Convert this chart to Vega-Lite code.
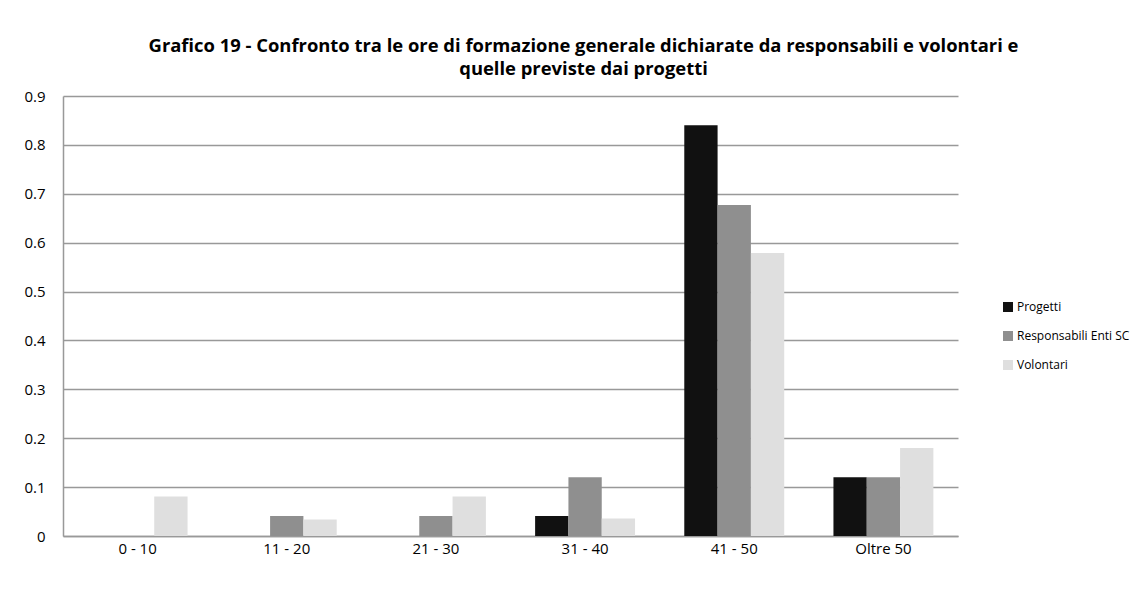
{
  "$schema": "https://vega.github.io/schema/vega-lite/v6.json",
  "width": 895,
  "height": 440,
  "autosize": {"type": "none"},
  "padding": {"left": 63, "top": 96, "right": 180, "bottom": 64},
  "background": "white",
  "title": {
    "text": ["Grafico 19 - Confronto tra le ore di formazione generale dichiarate da responsabili e volontari e", "quelle previste dai progetti"],
    "anchor": "middle",
    "frame": "group",
    "dx": 73,
    "offset": 11,
    "font": "Open Sans",
    "fontSize": 18.4,
    "fontWeight": "bold",
    "color": "#000000",
    "lineHeight": 23
  },
  "data": {
    "values": [
      {"fascia": "0 - 10", "serie": "Progetti", "valore": 0},
      {"fascia": "0 - 10", "serie": "Responsabili Enti SC", "valore": 0},
      {"fascia": "0 - 10", "serie": "Volontari", "valore": 0.081},
      {"fascia": "11 - 20", "serie": "Progetti", "valore": 0},
      {"fascia": "11 - 20", "serie": "Responsabili Enti SC", "valore": 0.041},
      {"fascia": "11 - 20", "serie": "Volontari", "valore": 0.034},
      {"fascia": "21 - 30", "serie": "Progetti", "valore": 0},
      {"fascia": "21 - 30", "serie": "Responsabili Enti SC", "valore": 0.041},
      {"fascia": "21 - 30", "serie": "Volontari", "valore": 0.081},
      {"fascia": "31 - 40", "serie": "Progetti", "valore": 0.041},
      {"fascia": "31 - 40", "serie": "Responsabili Enti SC", "valore": 0.12},
      {"fascia": "31 - 40", "serie": "Volontari", "valore": 0.036},
      {"fascia": "41 - 50", "serie": "Progetti", "valore": 0.84},
      {"fascia": "41 - 50", "serie": "Responsabili Enti SC", "valore": 0.677},
      {"fascia": "41 - 50", "serie": "Volontari", "valore": 0.579},
      {"fascia": "Oltre 50", "serie": "Progetti", "valore": 0.12},
      {"fascia": "Oltre 50", "serie": "Responsabili Enti SC", "valore": 0.12},
      {"fascia": "Oltre 50", "serie": "Volontari", "valore": 0.18}
    ]
  },
  "mark": {"type": "bar"},
  "encoding": {
    "x": {
      "field": "fascia",
      "type": "nominal",
      "sort": ["0 - 10", "11 - 20", "21 - 30", "31 - 40", "41 - 50", "Oltre 50"],
      "scale": {"paddingInner": 0.33, "paddingOuter": 0.165},
      "axis": {
        "title": null,
        "labelAngle": 0,
        "labelFont": "Open Sans",
        "labelFontSize": 15,
        "labelColor": "#000000",
        "labelPadding": 5,
        "ticks": false,
        "domainColor": "#999999",
        "domainWidth": 1.5
      }
    },
    "xOffset": {
      "field": "serie",
      "type": "nominal",
      "sort": ["Progetti", "Responsabili Enti SC", "Volontari"],
      "scale": {"paddingInner": 0, "paddingOuter": 0}
    },
    "y": {
      "field": "valore",
      "type": "quantitative",
      "scale": {"domain": [0, 0.9], "nice": false},
      "axis": {
        "title": null,
        "values": [0, 0.1, 0.2, 0.3, 0.4, 0.5, 0.6, 0.7, 0.8, 0.9],
        "format": ".1~f",
        "labelFont": "Open Sans",
        "labelFontSize": 15,
        "labelColor": "#000000",
        "labelPadding": 18,
        "ticks": false,
        "grid": true,
        "gridColor": "#999999",
        "gridWidth": 1.5,
        "domain": true,
        "domainColor": "#999999",
        "domainWidth": 1.5
      }
    },
    "color": {
      "field": "serie",
      "type": "nominal",
      "sort": ["Progetti", "Responsabili Enti SC", "Volontari"],
      "scale": {
        "domain": ["Progetti", "Responsabili Enti SC", "Volontari"],
        "range": ["#111111", "#8f8f8f", "#dfdfdf"]
      },
      "legend": {
        "title": null,
        "orient": "none",
        "legendX": 939,
        "legendY": 205,
        "symbolType": "square",
        "symbolSize": 100,
        "symbolStrokeWidth": 0,
        "symbolOpacity": 1,
        "labelFont": "Open Sans",
        "labelFontSize": 12,
        "labelColor": "#000000",
        "labelOffset": 3,
        "rowPadding": 17
      }
    }
  },
  "config": {
    "view": {"stroke": null}
  }
}
